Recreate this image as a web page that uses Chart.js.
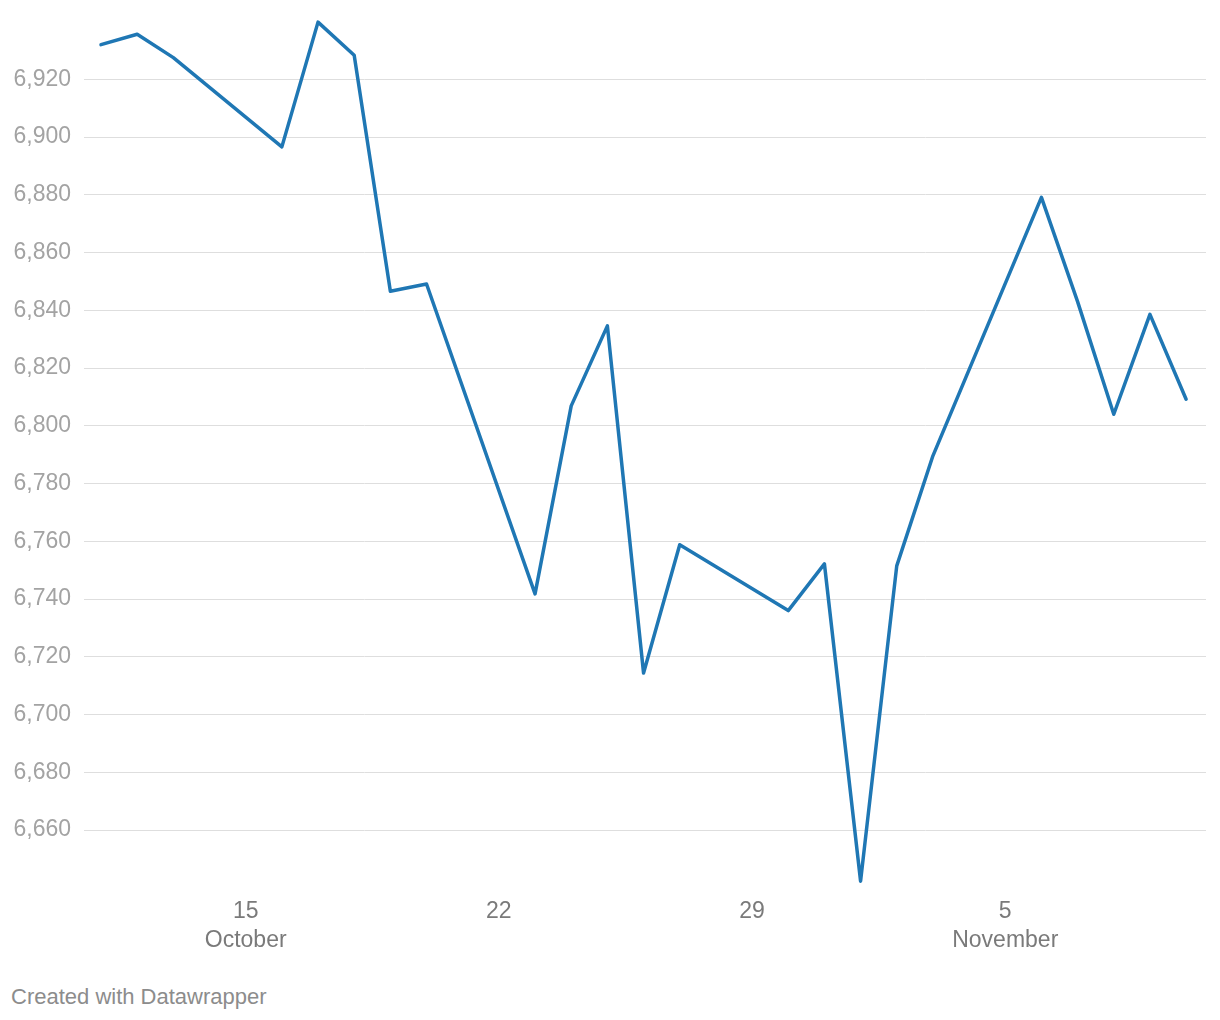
<!DOCTYPE html>
<html lang="en">
<head>
  <meta charset="UTF-8">
  <title>Line chart - October / November</title>
  <script src="https://cdn.jsdelivr.net/npm/chart.js"></script>
  <style>
    body {
      margin: 0;
      background: #fff;
      font-family: "Liberation Sans", Arial, sans-serif;
    }
    .chart-container {
      position: relative;
      width: 1220px;
      height: 975px;
    }
    .footer {
      position: absolute;
      left: 11px;
      top: 984px;
      font-size: 22px;
      line-height: 26px;
      color: #8c8c8c;
    }
  </style>
</head>
<body>
  <div class="chart-container">
    <canvas id="lineChart"></canvas>
  </div>
  <div class="footer">Created with Datawrapper</div>

  <script>
    // days counted from 11 October (weekends have no value)
    const days = [0, 1, 2, 5, 6, 7, 8, 9, 12, 13, 14, 15, 16, 19, 20, 21, 22, 23, 26, 27, 28, 29, 30];
    const values = [6932.0, 6935.6, 6927.5, 6896.6, 6939.8, 6928.3, 6846.6, 6849.1, 6741.8, 6806.9,
                    6834.6, 6714.4, 6758.8, 6736.0, 6752.2, 6642.3, 6751.5, 6789.6, 6879.1, 6843.0,
                    6804.0, 6838.6, 6809.2];

    // axis ticks
    const xTickDays = [4, 11, 18, 25];
    const xTickLabels = [['15', 'October'], '22', '29', ['5', 'November']];
    const yTickValues = [6660, 6680, 6700, 6720, 6740, 6760, 6780, 6800, 6820, 6840, 6860, 6880, 6900, 6920];

    const points = days.map((d, i) => ({ x: d, y: values[i] }));

    const ctx = document.getElementById('lineChart').getContext('2d');
    const lineChart = new Chart(ctx, {
      type: 'line',
      data: {
        datasets: [{
          data: points,
          borderColor: '#1f77b4',
          borderWidth: 3.5,
          borderJoinStyle: 'round',
          borderCapStyle: 'round',
          pointRadius: 0,
          tension: 0,
          fill: false
        }]
      },
      options: {
        responsive: true,
        maintainAspectRatio: false,
        animation: false,
        layout: {
          padding: { top: 10, left: 10, right: 14, bottom: 0 }
        },
        scales: {
          x: {
            type: 'linear',
            min: -0.47,
            max: 30.55,
            border: { display: false },
            grid: { display: false, drawTicks: false },
            afterBuildTicks: (axis) => {
              axis.ticks = xTickDays.map(v => ({ value: v }));
            },
            afterFit: (axis) => {
              axis.height = 80;
              axis.paddingLeft = 0;
              axis.paddingRight = 0;
            },
            ticks: {
              autoSkip: false,
              maxRotation: 0,
              padding: 2,
              color: '#7a7a7a',
              font: { family: 'Liberation Sans, Arial, sans-serif', size: 23, lineHeight: 1.27 },
              callback: (value) => {
                const i = xTickDays.indexOf(value);
                return i >= 0 ? xTickLabels[i] : '';
              }
            }
          },
          y: {
            min: 6637.5,
            max: 6944,
            border: { display: false },
            grid: { color: '#dedede', lineWidth: 1, drawTicks: false },
            afterBuildTicks: (axis) => {
              axis.ticks = yTickValues.map(v => ({ value: v }));
            },
            afterFit: (axis) => {
              axis.width = 74;
              axis.paddingTop = 0;
              axis.paddingBottom = 0;
            },
            ticks: {
              padding: 13,
              color: '#a3a3a3',
              font: { family: 'Liberation Sans, Arial, sans-serif', size: 23 },
              callback: (value) => value.toLocaleString('en-US')
            }
          }
        },
        plugins: {
          legend: { display: false },
          tooltip: { enabled: false }
        }
      }
    });
  </script>
</body>
</html>
